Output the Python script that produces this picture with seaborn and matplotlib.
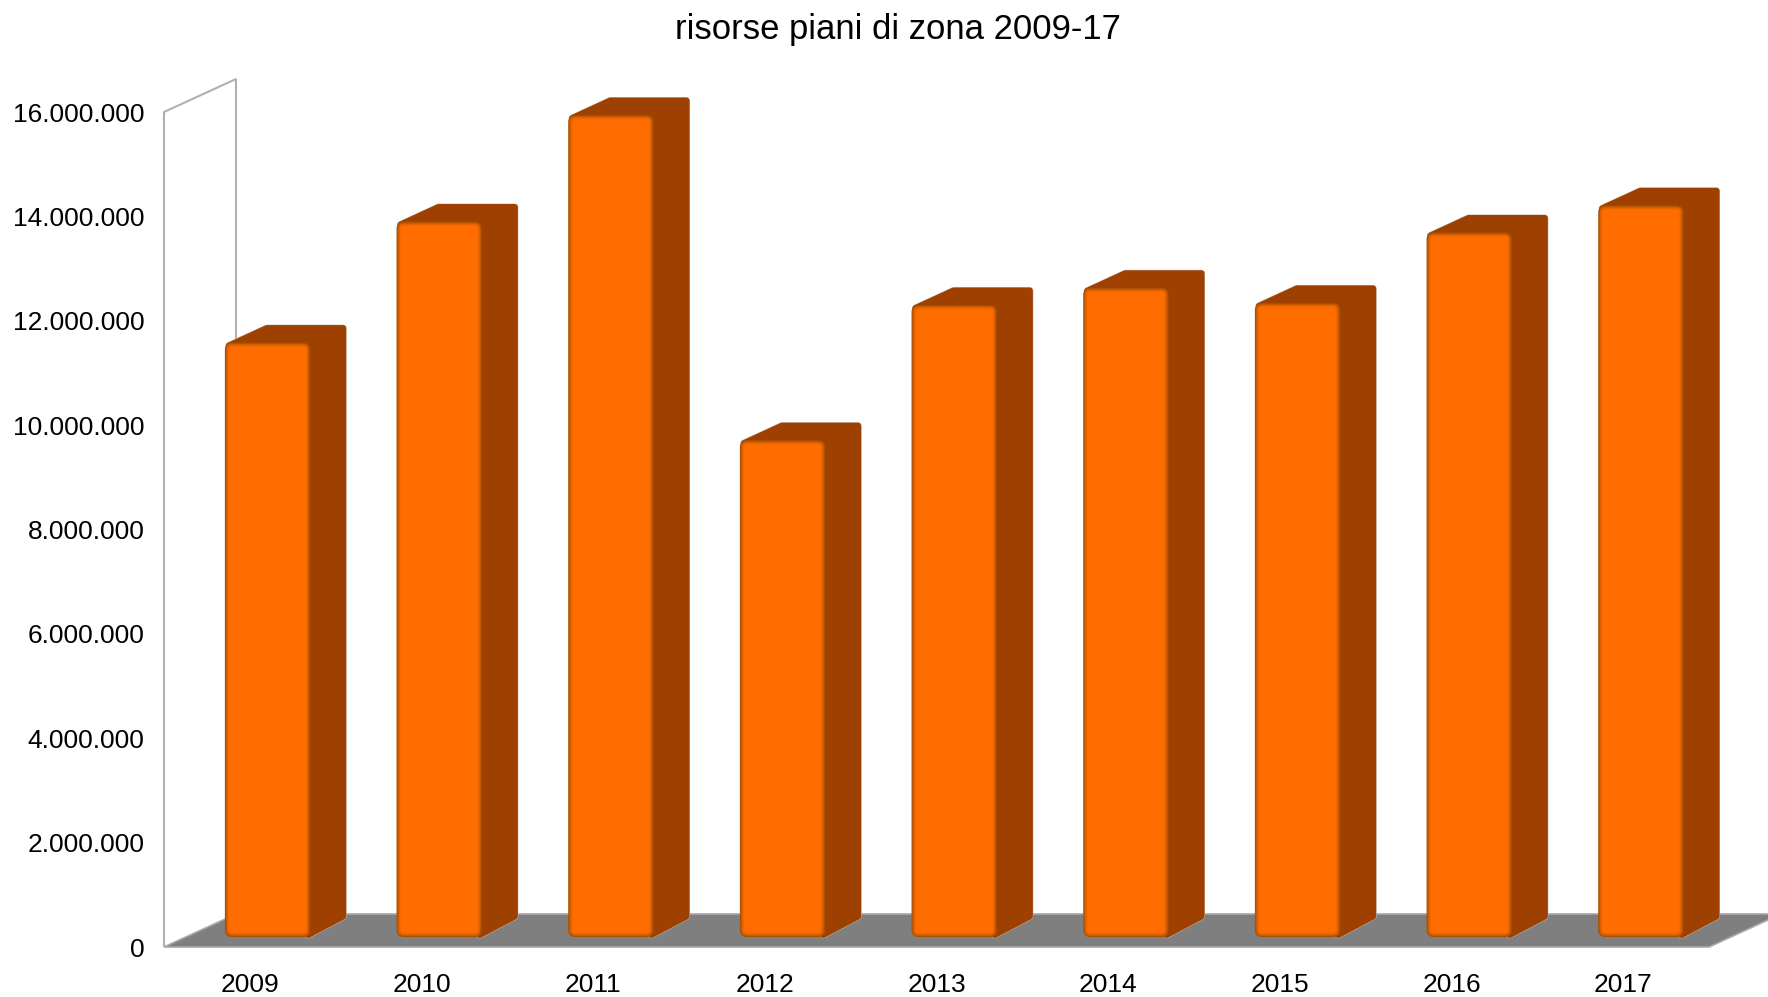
import matplotlib
matplotlib.use("Agg")
import pandas as pd
import seaborn as sns
import matplotlib.pyplot as plt
from matplotlib.patches import FancyBboxPatch, Polygon
from matplotlib.ticker import FuncFormatter, MultipleLocator
from matplotlib.transforms import IdentityTransform
import matplotlib.patheffects as pe

# Values
years = ["2009", "2010", "2011", "2012", "2013", "2014", "2015", "2016", "2017"]
risorse = [11390000, 13710000, 15750000, 9520000, 12110000, 12440000, 12150000, 13500000, 14020000]
title = "risorse piani di zona 2009-17"

df = pd.DataFrame({"anno": years, "risorse": risorse})

W, H = 1768, 997
ORANGE = "#ff6d00"
DARK = "#9e4000"
FLOOR = "#7f7f7f"
WALL = "#b0b0b0"

sns.set_theme(style="white")
plt.rcParams["font.family"] = ["Liberation Sans", "DejaVu Sans"]

fig = plt.figure(figsize=(W / 100, H / 100), dpi=100)
ax = fig.add_axes([164 / W, 1 - 947 / H, (1709 - 164) / W, (947 - 112) / H])
sns.barplot(data=df, x="anno", y="risorse", color=ORANGE, width=0.497, saturation=1, ax=ax, zorder=5)

ax.set_xlim(-0.5, 8.5)
ax.set_ylim(0, 16000000)
ax.yaxis.set_major_locator(MultipleLocator(2000000))
ax.yaxis.set_major_formatter(FuncFormatter(lambda v, _: f"{int(v):,}".replace(",", ".")))
ax.set_xlabel("")
ax.set_ylabel("")
ax.tick_params(axis="x", length=0, pad=18.5, labelsize=19, colors="black")
ax.tick_params(axis="y", length=0, pad=14, labelsize=19, colors="black")
ax.patch.set_alpha(0)
sns.despine(ax=ax, left=True, bottom=True)

fig.canvas.draw()
to_px = ax.transData.transform

# Fake 3D: everything below works in pixels, starting from the data positions
depth_x, depth_y = 72, 33
(fx0, fy0), (fx1, fy1) = to_px((-0.5, 0)), to_px((8.5, 16000000))
px = IdentityTransform()

floor = Polygon([(fx0, fy0), (fx1, fy0), (fx1 + depth_x, fy0 + depth_y), (fx0 + depth_x, fy0 + depth_y)],
                closed=True, facecolor=FLOOR, edgecolor="#a8a8a8", lw=1.2, transform=px, zorder=1)
fig.add_artist(floor)
wall = Polygon([(fx0, fy0), (fx0, fy1), (fx0 + depth_x, fy1 + depth_y), (fx0 + depth_x, fy0 + depth_y)],
               closed=False, fill=False, edgecolor=WALL, lw=1.5, joinstyle="bevel", transform=px, zorder=2)
fig.add_artist(wall)

shift_x, shift_y = 17.7, 10
side_x, side_y = 36, 17.5
r = 3

for bar in ax.patches:
    x0, y0 = to_px((bar.get_x(), 0))
    x1, y1 = to_px((bar.get_x() + bar.get_width(), bar.get_height()))
    x0, x1 = x0 + shift_x, x1 + shift_x
    y0, y1 = y0 + shift_y, y1 + shift_y

    # top and right faces, thick round edge gives the soft corners
    side = Polygon([(x0 + r + 1, y1 - r), (x0 + side_x + 2 * r, y1 + side_y - r), (x1 + side_x - r, y1 + side_y - r),
                    (x1 + side_x - r, y0 + side_y + r), (x1 - 2, y0 + 2), (x1 - 2, y1 - r)],
                   closed=True, facecolor=DARK, edgecolor=DARK, lw=4.3, joinstyle="round",
                   transform=px, zorder=3, clip_on=False)
    side.set_path_effects([pe.Stroke(linewidth=5, foreground="#c8b8a8"), pe.Normal()])
    fig.add_artist(side)

    # front face, nested boxes for the blurred darker rim
    layers = [(0, "#a85000", 7), (1, "#c25800", 6), (2, "#e06200", 5), (3.2, "#f26800", 4)]
    for inset, col, rad in layers:
        box = FancyBboxPatch((x0 + inset, y0 + inset), x1 - x0 - 2 * inset, y1 - y0 - 2 * inset,
                             boxstyle=f"round,pad=0,rounding_size={rad}", facecolor=col, edgecolor="none",
                             transform=px, zorder=4, clip_on=False)
        fig.add_artist(box)
    front = FancyBboxPatch((x0 + 4.2, y0 + 4.2), x1 - x0 - 8.4, y1 - y0 - 8.4,
                           boxstyle="round,pad=0,rounding_size=3", facecolor=ORANGE, edgecolor="none",
                           transform=px, zorder=4, clip_on=False)
    fig.add_artist(front)
    bar.set_visible(False)

fig.text(898 / W, 1 - 30 / H, title, ha="center", va="center", fontsize=24.9, color="black")

fig.savefig("out.png", dpi=100, facecolor="white")
